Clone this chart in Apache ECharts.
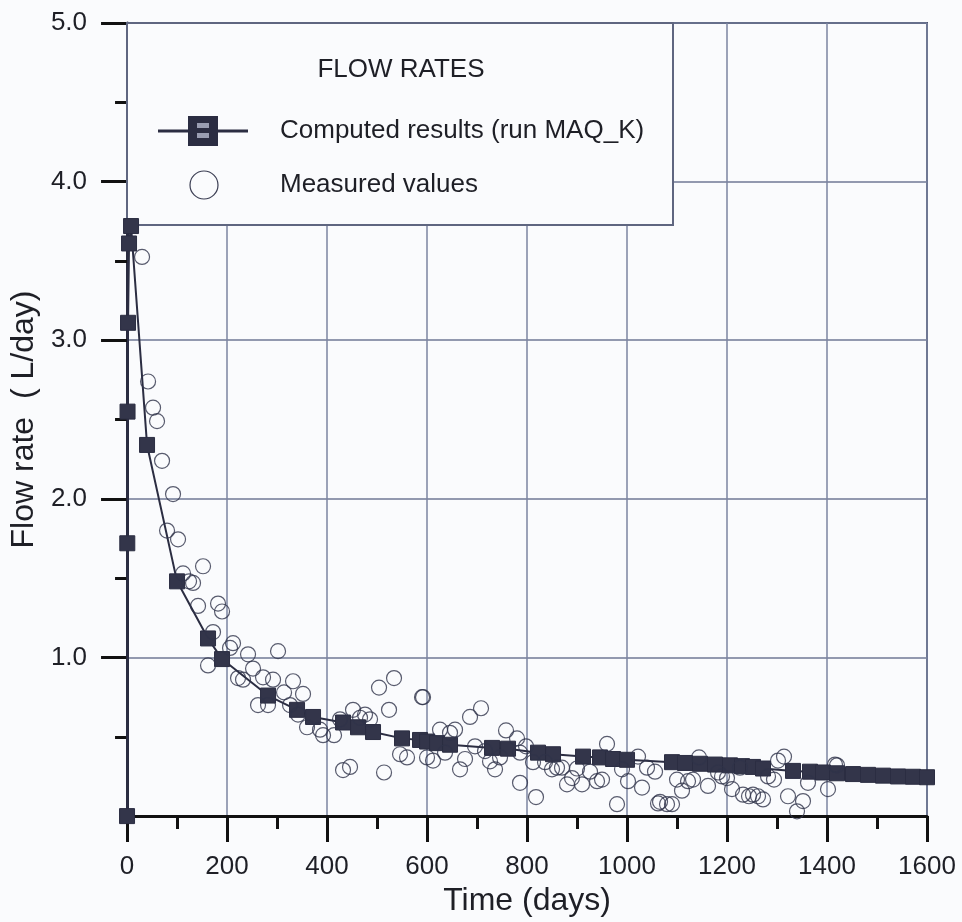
<!DOCTYPE html>
<html>
<head>
<meta charset="utf-8">
<script src="https://cdn.jsdelivr.net/npm/echarts@6/dist/echarts.min.js"></script>
<style>
  html, body { margin: 0; padding: 0; background: #fafbfd; }
  #chart { width: 962px; height: 922px; }
</style>
</head>
<body>
<div id="chart"></div>
<script>
// Computed flow rates (run MAQ_K): time in days, flow rate in L/day
const compT = [0, 0.5, 1, 2, 4, 8, 40, 100, 162, 190, 282, 340, 372, 432, 462, 492, 550, 586,
  600, 620, 646, 730, 762, 822, 852, 912, 946, 972, 1000, 1090, 1116, 1146, 1176, 1206, 1230,
  1252, 1272, 1332, 1366, 1392, 1420, 1452, 1482, 1512, 1542, 1572, 1600];
const compV = [0, 1.72, 2.55, 3.11, 3.61, 3.72, 2.34, 1.48, 1.12, 0.99, 0.76, 0.67, 0.625, 0.59, 0.56, 0.53, 0.49, 0.48,
  0.47, 0.46, 0.45, 0.43, 0.425, 0.40, 0.39, 0.375, 0.37, 0.36, 0.355, 0.34, 0.335, 0.33, 0.325, 0.32, 0.315,
  0.31, 0.30, 0.285, 0.28, 0.275, 0.27, 0.265, 0.26, 0.255, 0.25, 0.248, 0.245];

// Measured flow rates
const measT = [30, 42, 52, 60, 70, 92, 80, 102, 152, 112, 132, 124, 142, 182, 190,
  172, 212, 162, 206, 242, 302, 222, 232, 252, 272, 292, 332, 314, 352, 262, 282, 326, 342,
  360, 386, 392, 414, 426, 452, 476, 486, 504, 534, 524, 590, 432, 446, 514, 546, 560, 466,
  592, 686, 708, 626, 646, 656, 600, 612, 636, 666, 676, 696, 716, 726, 736, 746, 758, 780,
  786, 798, 786, 818, 812, 836, 850, 860, 870, 880, 890, 900, 910, 926, 940, 950, 960, 980,
  990, 1002, 1022, 1030, 1040, 1056, 1062, 1080, 1100, 1110, 1066, 1090, 1122, 1132, 1144,
  1162, 1182, 1190, 1200, 1210, 1226, 1232, 1244, 1252, 1262, 1272, 1282, 1294, 1302, 1314,
  1322, 1340, 1352, 1362, 1402, 1416, 1420];
const measV = [3.525, 2.74, 2.575, 2.49, 2.24, 2.03, 1.80, 1.745, 1.575, 1.53, 1.47, 1.48, 1.325, 1.34, 1.29,
  1.16, 1.09, 0.95, 1.06, 1.02, 1.04, 0.87, 0.86, 0.93, 0.875, 0.86, 0.85, 0.78, 0.77, 0.70, 0.70, 0.70, 0.64,
  0.56, 0.545, 0.51, 0.51, 0.61, 0.67, 0.64, 0.61, 0.81, 0.87, 0.67, 0.75, 0.29, 0.31, 0.275, 0.39, 0.37, 0.62,
  0.75, 0.625, 0.68, 0.545, 0.525, 0.545, 0.37, 0.35, 0.40, 0.295, 0.36, 0.44, 0.41, 0.345, 0.295, 0.37, 0.54, 0.49,
  0.40, 0.44, 0.21, 0.12, 0.34, 0.34, 0.295, 0.305, 0.305, 0.20, 0.24, 0.30, 0.20, 0.28, 0.22, 0.23, 0.455, 0.075,
  0.295, 0.22, 0.375, 0.18, 0.305, 0.28, 0.08, 0.075, 0.23, 0.16, 0.09, 0.075, 0.22, 0.23, 0.37,
  0.19, 0.275, 0.25, 0.24, 0.17, 0.305, 0.135, 0.125, 0.135, 0.125, 0.105, 0.25, 0.23, 0.35, 0.375,
  0.125, 0.03, 0.095, 0.21, 0.17, 0.325, 0.32];

// Axis ticks
const xTicks = [0, 200, 400, 600, 800, 1000, 1200, 1400, 1600];
const yTicks = [1, 2, 3, 4, 5];

const FONT = '"Liberation Sans", Arial, sans-serif';
const INK = '#2b2d42';
const TEXT = '#1e1f26';

const computed = compT.map((t, i) => [t, compV[i]]);
const measured = measT.map((t, i) => [t, measV[i]]);

const chart = echarts.init(document.getElementById('chart'), null, { renderer: 'canvas' });

chart.setOption({
  backgroundColor: '#fafbfd',
  animation: false,
  grid: {
    left: 127, top: 23, width: 800, height: 799,
    show: true, borderColor: '#4d5470', borderWidth: 2, backgroundColor: 'transparent'
  },
  xAxis: {
    type: 'value', min: 0, max: 1600, interval: 200,
    name: 'Time (days)', nameLocation: 'middle', nameGap: 68,
    nameTextStyle: { fontFamily: FONT, fontSize: 32, color: TEXT },
    axisLine: { show: true, lineStyle: { color: '#111', width: 3 } },
    axisTick: { show: true, inside: false, length: 26, lineStyle: { color: '#111', width: 3 }, customValues: xTicks },
    minorTick: { show: true, splitNumber: 2, length: 13, lineStyle: { color: '#111', width: 3 } },
    axisLabel: { margin: 38, fontFamily: FONT, fontSize: 26, color: TEXT, customValues: xTicks,
      formatter: v => String(v) },
    splitLine: { show: true, lineStyle: { color: '#7b84a0', width: 1.5 } },
    minorSplitLine: { show: false }
  },
  yAxis: {
    type: 'value', min: 0, max: 5, interval: 1,
    name: 'Flow rate  ( L/day)', nameLocation: 'middle', nameGap: 84,
    nameTextStyle: { fontFamily: FONT, fontSize: 32, color: TEXT },
    axisLine: { show: true, lineStyle: { color: '#2a2c40', width: 3 } },
    axisTick: { show: true, inside: false, length: 26, lineStyle: { color: '#111', width: 3 }, customValues: yTicks },
    minorTick: { show: true, splitNumber: 2, length: 12, lineStyle: { color: '#111', width: 3 } },
    axisLabel: {
      margin: 40, fontFamily: FONT, fontSize: 26, color: TEXT, customValues: yTicks,
      formatter: v => v.toFixed(1)
    },
    splitLine: { show: true, lineStyle: { color: '#6f7894', width: 1.5 } }
  },
  series: [
    {
      name: 'Computed results (run MAQ_K)',
      type: 'line',
      data: computed,
      symbol: 'rect',
      symbolSize: 15,
      showAllSymbol: true,
      lineStyle: { color: INK, width: 2 },
      itemStyle: { color: '#33354a', borderColor: '#2b2d42', borderWidth: 1 },
      z: 3
    },
    {
      name: 'Measured values',
      type: 'scatter',
      data: measured,
      symbol: 'circle',
      symbolSize: 15,
      itemStyle: { color: 'rgba(0,0,0,0)', borderColor: '#30334a', borderWidth: 1.2 },
      z: 4
    }
  ],
  graphic: [
    { type: 'rect', z: 1, shape: { x: 127, y: 23, width: 546, height: 202 },
      style: { fill: '#fafbfd', stroke: '#5f6680', lineWidth: 2 } },
    { type: 'text', z: 1, x: 401, y: 70,
      style: { text: 'FLOW RATES', font: '26px ' + FONT, fill: TEXT, textAlign: 'center', textVerticalAlign: 'middle' } },
    { type: 'line', z: 1, shape: { x1: 158, y1: 131, x2: 248, y2: 131 },
      style: { stroke: INK, lineWidth: 3 } },
    { type: 'rect', z: 1, shape: { x: 188, y: 116, width: 30, height: 30 },
      style: { fill: INK } },
    { type: 'rect', z: 1, zlevel: 0, shape: { x: 197, y: 123, width: 12, height: 5 },
      style: { fill: '#9a9eb2' } },
    { type: 'rect', z: 1, shape: { x: 197, y: 133, width: 12, height: 5 },
      style: { fill: '#9a9eb2' } },
    { type: 'text', z: 1, x: 280, y: 131,
      style: { text: 'Computed results (run MAQ_K)', font: '26px ' + FONT, fill: TEXT, textVerticalAlign: 'middle' } },
    { type: 'circle', z: 1, shape: { cx: 204, cy: 185, r: 14 },
      style: { fill: 'none', stroke: '#3a3d52', lineWidth: 1.2 } },
    { type: 'text', z: 1, x: 280, y: 185,
      style: { text: 'Measured values', font: '26px ' + FONT, fill: TEXT, textVerticalAlign: 'middle' } }
  ]
});
</script>
</body>
</html>
